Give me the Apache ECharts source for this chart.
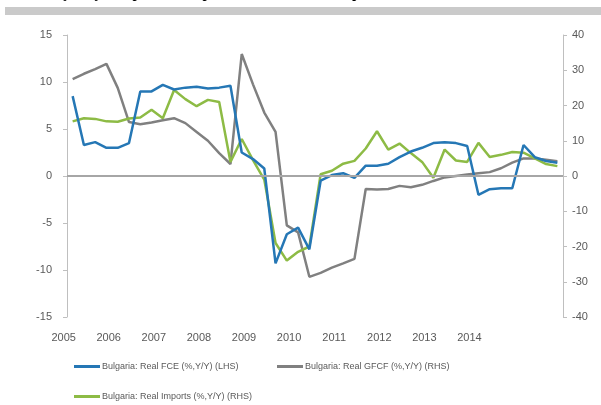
<!DOCTYPE html>
<html>
<head>
<meta charset="utf-8">
<script src="https://cdn.jsdelivr.net/npm/echarts@6/dist/echarts.min.js"></script>
<style>
html,body{margin:0;padding:0;background:#fff;}
#main{width:601px;height:405px;}
</style>
</head>
<body>
<div id="main"></div>
<script>
// Quarterly categories (44 points), year labels shown every 4th category
var categories = [];
for (var y = 2005; y <= 2015; y++) { for (var q = 1; q <= 4; q++) { categories.push(y + 'Q' + q); } }
var yearLabels = ['2005','2006','2007','2008','2009','2010','2011','2012','2013','2014'];

var seriesNames = [
  'Bulgaria: Real FCE (%,Y/Y) (LHS)',
  'Bulgaria: Real GFCF (%,Y/Y) (RHS)',
  'Bulgaria: Real Imports (%,Y/Y) (RHS)'
];

// Real FCE, % y/y (left axis)
var fce = [8.5, 3.3, 3.6, 3.0, 3.0, 3.5, 9.0, 9.0, 9.7, 9.2,
           9.4, 9.5, 9.3, 9.4, 9.6, 2.5, 1.8, 0.8, -9.3, -6.2,
           -5.5, -7.8, -0.5, 0.1, 0.3, -0.2, 1.1, 1.1, 1.3, 2.0,
           2.6, 3.0, 3.5, 3.6, 3.5, 3.2, -2.0, -1.4, -1.3, -1.3,
           3.3, 2.0, 1.6, 1.4];
// Real GFCF, % y/y (right axis)
var gfcf = [27.5, 29.0, 30.3, 31.8, 25.0, 15.3, 14.7, 15.2, 15.8, 16.4,
            15.0, 12.5, 10.0, 6.5, 3.4, 34.6, 26.0, 18.0, 12.5, -14.0,
            -16.0, -28.6, -27.5, -26.0, -24.8, -23.5, -3.7, -3.8, -3.7, -2.8,
            -3.2, -2.5, -1.4, -0.4, 0.0, 0.4, 0.8, 1.1, 2.2, 3.8,
            5.0, 5.0, 4.6, 4.2];
// Real Imports, % y/y (right axis)
var imports = [15.5, 16.4, 16.2, 15.5, 15.4, 16.3, 16.6, 18.8, 16.4, 24.4,
               21.8, 19.8, 21.6, 21.0, 4.0, 10.5, 4.5, -1.0, -19.0, -24.0,
               -21.5, -20.0, 0.5, 1.5, 3.5, 4.3, 7.8, 12.7, 7.5, 9.2,
               6.5, 4.0, -0.5, 7.5, 4.4, 4.0, 9.4, 5.4, 6.0, 6.8,
               6.6, 5.0, 3.4, 2.8];

var colors = ['#2577b5', '#808080', '#8dbb45'];
var textColor = '#595959';
var font = 'Liberation Sans';

var chart = echarts.init(document.getElementById('main'));

function legendAt(name, left, top) {
  return {
    data: [name], left: left, top: top, padding: 0,
    icon: 'rect', itemWidth: 26, itemHeight: 3, itemGap: 0,
    textStyle: { fontSize: 9, color: textColor, fontFamily: font, padding: [0, 0, 0, -3] },
    selectedMode: false
  };
}

chart.setOption({
  animation: false,
  backgroundColor: '#ffffff',
  graphic: [
    { type: 'rect', shape: { x: 5, y: 7, width: 596, height: 8 },
      style: { fill: '#cacaca' }, silent: true },
    { type: 'text', left: 20, top: -13,
      style: { text: 'Activity: key components of private demand and imports', fill: '#000',
               font: 'bold 15px "Liberation Serif"' }, silent: true }
  ],
  grid: { left: 67, right: 38, top: 35, bottom: 88, containLabel: false },
  legend: [
    legendAt(seriesNames[0], 74, 362),
    legendAt(seriesNames[1], 277, 362),
    legendAt(seriesNames[2], 74, 392)
  ],
  xAxis: {
    type: 'category',
    data: categories,
    boundaryGap: true,
    axisLine: { show: false, onZero: false },
    axisTick: { show: false },
    splitLine: { show: false },
    axisLabel: {
      interval: function (index) { return index % 4 === 0 && index / 4 < yearLabels.length; },
      formatter: function (value, index) { return yearLabels[index / 4] || ''; },
      color: textColor, fontSize: 11, fontFamily: font, margin: 15,
      padding: [0, 18, 0, 0]
    }
  },
  yAxis: [
    {
      type: 'value', min: -15, max: 15, interval: 5, position: 'left',
      axisLine: { show: true, lineStyle: { color: '#bfbfbf', width: 1 } },
      axisTick: { show: true, length: 4, lineStyle: { color: '#bfbfbf' } },
      splitLine: { show: false },
      axisLabel: { color: textColor, fontSize: 11, fontFamily: font, margin: 15 }
    },
    {
      type: 'value', min: -40, max: 40, interval: 10, position: 'right',
      axisLine: { show: true, lineStyle: { color: '#bfbfbf', width: 1 } },
      axisTick: { show: true, length: 4, lineStyle: { color: '#bfbfbf' } },
      splitLine: { show: false },
      axisLabel: { color: textColor, fontSize: 11, fontFamily: font, margin: 9 }
    }
  ],
  series: [
    {
      name: seriesNames[1], type: 'line', yAxisIndex: 1, data: gfcf,
      symbol: 'none', itemStyle: { color: colors[1] },
      lineStyle: { width: 2.5, color: colors[1] }, z: 2,
      markLine: {
        silent: true, symbol: 'none', label: { show: false },
        lineStyle: { color: '#a6a6a6', width: 2, type: 'solid' },
        data: [{ yAxis: 0 }]
      }
    },
    {
      name: seriesNames[2], type: 'line', yAxisIndex: 1, data: imports,
      symbol: 'none', itemStyle: { color: colors[2] },
      lineStyle: { width: 2.5, color: colors[2] }, z: 3
    },
    {
      name: seriesNames[0], type: 'line', yAxisIndex: 0, data: fce,
      symbol: 'none', itemStyle: { color: colors[0] },
      lineStyle: { width: 2.5, color: colors[0] }, z: 4
    }
  ]
});
</script>
</body>
</html>
